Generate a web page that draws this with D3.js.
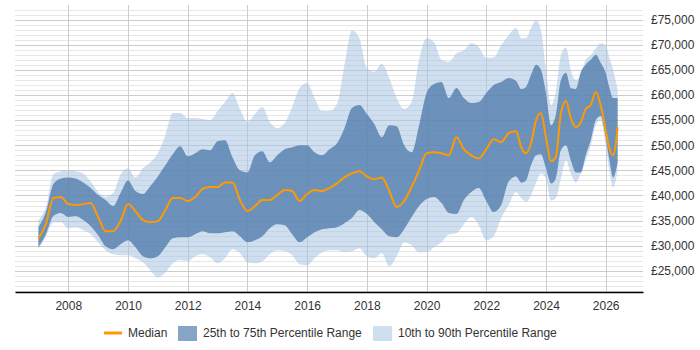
<!DOCTYPE html>
<html>
<head>
<meta charset="utf-8">
<script src="https://cdn.jsdelivr.net/npm/d3@7"></script>
<style>
    body { margin: 0; background: #fff; font-family: "Liberation Sans", Arial, sans-serif; }
    .tick text { font-size: 12px; fill: #333; }
    .legend text { font-size: 12px; fill: #333; }
</style>
</head>
<body>
<div id="chart"></div>
<script>
// time points (fractional years)
const years = [
    2007, 2007.25, 2007.5, 2007.75, 2008, 2008.25, 2008.5, 2008.75,
    2009, 2009.25, 2009.5, 2009.75, 2010, 2010.25, 2010.5, 2010.75,
    2011, 2011.25, 2011.5, 2011.75, 2012, 2012.25, 2012.5, 2012.75,
    2013, 2013.25, 2013.5, 2013.75, 2014, 2014.25, 2014.5, 2014.75,
    2015, 2015.25, 2015.5, 2015.75, 2016, 2016.25, 2016.5, 2016.75,
    2017, 2017.25, 2017.5, 2017.75, 2018, 2018.25, 2018.5, 2018.75,
    2019, 2019.25, 2019.5, 2019.75, 2020, 2020.25, 2020.5, 2020.75,
    2021, 2021.25, 2021.5, 2021.75, 2022, 2022.25, 2022.5, 2022.75,
    2023, 2023.17, 2023.33, 2023.5, 2023.67, 2023.83,
    2024, 2024.17, 2024.33, 2024.5, 2024.67, 2024.83,
    2025, 2025.17, 2025.33, 2025.5, 2025.67, 2025.83,
    2026, 2026.125, 2026.25, 2026.4
];

// salaries in £ thousands
const median = [
    31.5, 34.3, 39.5, 39.7, 38.3, 38.1, 38.3, 38.5,
    35.7, 32.9, 32.9, 34.9, 38.3, 36.9, 35.1, 34.7,
    34.9, 37.1, 39.5, 39.5, 38.9, 39.7, 41.3, 41.7,
    41.7, 42.6, 42.6, 39.1, 36.9, 37.9, 39.1, 39.1,
    40.1, 41.1, 40.9, 38.9, 40.3, 41.1, 40.9, 41.5,
    42.4, 43.6, 44.4, 44.8, 43.8, 43.2, 43.6, 40.9,
    37.7, 38.9, 41.7, 45.0, 48.4, 48.6, 48.4, 48.0,
    51.6, 49.2, 48.0, 47.4, 49.2, 51.2, 50.6, 52.4,
    52.8, 49.6, 48.4, 50.4, 55.0, 56.4,
    51.6, 46.8, 47.6, 56.4, 58.8, 55.4,
    53.6, 54.6, 57.2, 58.0, 60.6, 58.0,
    53.0, 49.4, 48.0, 53.6
];

const p75 = [
    33.7, 36.7, 42.3, 43.4, 43.6, 43.4, 42.6, 41.5,
    40.1, 39.1, 37.9, 40.5, 43.0, 40.9, 40.3, 41.9,
    43.8, 46.0, 48.2, 49.8, 47.8, 48.4, 49.2, 49.0,
    50.8, 51.0, 47.6, 45.0, 44.6, 48.0, 48.8, 46.6,
    48.0, 49.2, 49.6, 50.0, 50.0, 48.6, 48.0, 49.2,
    50.4, 53.4, 57.4, 58.0, 56.2, 54.2, 51.6, 54.0,
    53.8, 50.0, 48.6, 54.0, 60.4, 62.2, 62.6, 59.4,
    61.4, 59.4, 58.4, 58.6, 60.4, 62.0, 62.6, 63.4,
    62.8, 61.2, 61.6, 64.0, 66.0, 65.0,
    60.4, 54.0, 56.0, 63.0, 64.4, 61.4,
    61.2, 64.6, 66.0, 67.0, 68.0, 66.4,
    64.4, 61.4, 59.4, 59.4
];

const p25 = [
    29.7, 32.3, 35.9, 36.5, 35.7, 35.9, 35.1, 33.9,
    32.1, 29.9, 29.3, 30.3, 31.1, 29.7, 27.9, 27.5,
    27.9, 29.7, 31.5, 31.7, 31.7, 32.3, 32.9, 32.5,
    32.5, 32.7, 32.9, 31.9, 30.7, 31.1, 31.9, 33.5,
    34.3, 34.1, 32.3, 30.7, 31.7, 32.7, 33.3, 33.5,
    33.7, 34.5, 35.5, 37.1, 36.3, 34.7, 33.3, 31.9,
    31.7, 33.3, 35.7, 37.9, 39.3, 39.7, 38.5, 36.5,
    36.3, 39.1, 40.7, 41.5, 38.9, 36.7, 38.1, 42.8,
    43.8, 42.6, 43.0, 46.0, 48.0, 48.2,
    45.4, 42.4, 43.4, 49.0, 50.0, 47.0,
    44.6, 44.6, 48.0, 51.0, 55.0, 55.8,
    51.6, 47.0, 43.6, 46.6
];

const p90 = [
    35.1, 37.7, 44.2, 44.8, 45.0, 44.8, 44.4, 42.8,
    40.7, 39.7, 40.5, 44.2, 45.4, 43.6, 45.4, 46.6,
    48.4, 52.0, 56.4, 56.4, 55.4, 55.4, 55.2, 55.0,
    56.8, 58.6, 60.4, 57.2, 54.6, 56.2, 57.6, 54.6,
    53.4, 54.4, 57.6, 61.4, 62.4, 59.4, 56.8, 56.8,
    58.2, 66.0, 72.9, 71.3, 65.4, 64.6, 66.2, 63.4,
    59.4, 57.2, 58.6, 67.0, 71.3, 70.5, 67.0, 66.6,
    68.3, 68.9, 70.3, 69.5, 67.4, 67.5, 69.9, 71.9,
    73.3, 71.3, 71.3, 73.3, 74.9, 72.9,
    65.0, 58.0, 60.6, 67.9, 69.5, 65.0,
    63.0, 64.0, 67.0, 67.9, 69.3, 70.3,
    69.9, 67.4, 65.0, 61.0
];

const p10 = [
    29.3, 31.9, 34.7, 34.7, 33.5, 33.7, 33.1, 32.3,
    30.7, 29.1, 28.3, 28.1, 28.1, 27.5, 26.7, 25.1,
    23.7, 24.7, 26.5, 27.1, 26.9, 27.9, 28.3, 27.7,
    26.5, 27.5, 29.3, 28.5, 26.7, 26.5, 26.9, 28.3,
    29.1, 28.9, 28.1, 26.3, 26.1, 27.5, 28.7, 29.1,
    29.1, 28.7, 28.9, 29.5, 27.9, 27.5, 28.5, 25.9,
    27.9, 30.7, 30.1, 28.7, 28.7, 29.7, 30.7, 32.3,
    32.5, 34.3, 35.7, 34.1, 31.1, 31.9, 35.5, 38.1,
    40.7, 39.5, 38.7, 40.1, 42.6, 44.4,
    43.4, 39.0, 39.5, 43.4, 47.0, 44.4,
    42.6, 44.4, 47.0, 50.0, 54.0, 55.0,
    50.0, 45.0, 41.6, 45.0
];

const yearTicks = [2008, 2010, 2012, 2014, 2016, 2018, 2020, 2022, 2024, 2026];
const salaryTicks = [25, 30, 35, 40, 45, 50, 55, 60, 65, 70, 75];
const legendLabels = ['Median', '25th to 75th Percentile Range', '10th to 90th Percentile Range'];

const width = 700, height = 350;
const plot = { left: 15, right: 643, top: 5, bottom: 292 };

const svg = d3.select('#chart')
    .append('svg')
    .attr('width', width)
    .attr('height', height);

const x = d3.scaleLinear()
    .domain([2006.215, 2027.25])
    .range([plot.left, plot.right]);

const y = d3.scaleLinear()
    .domain([20.8, 77.9])
    .range([plot.bottom, plot.top]);

const data = years.map((yr, i) => ({
    yr: yr, med: median[i], q1: p25[i], q3: p75[i], lo: p10[i], hi: p90[i]
}));

// minor horizontal grid every £1,000
const minor = d3.range(21, 78).filter(v => v % 5 !== 0);
svg.append('g')
    .selectAll('line')
    .data(minor)
    .enter()
    .append('line')
    .attr('x1', plot.left).attr('x2', plot.right)
    .attr('y1', d => Math.round(y(d)) + 0.5).attr('y2', d => Math.round(y(d)) + 0.5)
    .attr('stroke', '#e6e6e6');

// major horizontal grid
svg.append('g')
    .selectAll('line')
    .data(salaryTicks)
    .enter()
    .append('line')
    .attr('x1', plot.left).attr('x2', plot.right)
    .attr('y1', d => Math.round(y(d)) + 0.5).attr('y2', d => Math.round(y(d)) + 0.5)
    .attr('stroke', '#cccccc');

// vertical grid at year ticks
svg.append('g')
    .selectAll('line')
    .data(yearTicks)
    .enter()
    .append('line')
    .attr('x1', d => Math.round(x(d)) + 0.5).attr('x2', d => Math.round(x(d)) + 0.5)
    .attr('y1', plot.top).attr('y2', plot.bottom)
    .attr('stroke', '#cccccc');

// 10th - 90th band
const outer = d3.area()
    .x(d => x(d.yr))
    .y0(d => y(d.lo))
    .y1(d => y(d.hi))
    .curve(d3.curveMonotoneX);

svg.append('path')
    .datum(data)
    .attr('d', outer)
    .attr('fill', '#a9c4e2')
    .attr('fill-opacity', 0.55);

// 25th - 75th band
const inner = d3.area()
    .x(d => x(d.yr))
    .y0(d => y(d.q1))
    .y1(d => y(d.q3))
    .curve(d3.curveMonotoneX);

svg.append('path')
    .datum(data)
    .attr('d', inner)
    .attr('fill', '#527eae')
    .attr('fill-opacity', 0.8);

// median
const line = d3.line()
    .x(d => x(d.yr))
    .y(d => y(d.med))
    .curve(d3.curveMonotoneX);

svg.append('path')
    .datum(data)
    .attr('d', line)
    .attr('fill', 'none')
    .attr('stroke', '#ff9900')
    .attr('stroke-width', 2);

// x axis
const xAxis = d3.axisBottom(x)
    .tickValues(yearTicks)
    .tickFormat(d3.format('d'))
    .tickSize(0)
    .tickPadding(9);

const gx = svg.append('g')
    .attr('transform', `translate(0,${plot.bottom})`)
    .call(xAxis);
gx.select('.domain').attr('stroke', '#000').attr('stroke-width', 1.5);
gx.selectAll('text').style('font-family', '"Liberation Sans", Arial, sans-serif');

// y axis on the right
const yAxis = d3.axisRight(y)
    .tickValues(salaryTicks)
    .tickFormat(d => '£' + d3.format(',')(d * 1000))
    .tickSize(0)
    .tickPadding(8);

const gy = svg.append('g')
    .attr('transform', `translate(${plot.right},0)`)
    .call(yAxis);
gy.select('.domain').remove();
gy.selectAll('text').style('font-family', '"Liberation Sans", Arial, sans-serif');

// legend
const legend = svg.append('g').attr('class', 'legend');
const ly = 333;

legend.append('line')
    .attr('x1', 104).attr('x2', 122)
    .attr('y1', ly).attr('y2', ly)
    .attr('stroke', '#ff9900')
    .attr('stroke-width', 3);
legend.append('text')
    .attr('x', 128).attr('y', ly + 4)
    .text(legendLabels[0]);

legend.append('rect')
    .attr('x', 178).attr('y', ly - 7)
    .attr('width', 19).attr('height', 15)
    .attr('fill', '#527eae')
    .attr('fill-opacity', 0.7);
legend.append('text')
    .attr('x', 203).attr('y', ly + 4)
    .text(legendLabels[1]);

legend.append('rect')
    .attr('x', 373).attr('y', ly - 7)
    .attr('width', 19).attr('height', 15)
    .attr('fill', '#a9c4e2')
    .attr('fill-opacity', 0.55);
legend.append('text')
    .attr('x', 398).attr('y', ly + 4)
    .text(legendLabels[2]);
</script>
</body>
</html>
